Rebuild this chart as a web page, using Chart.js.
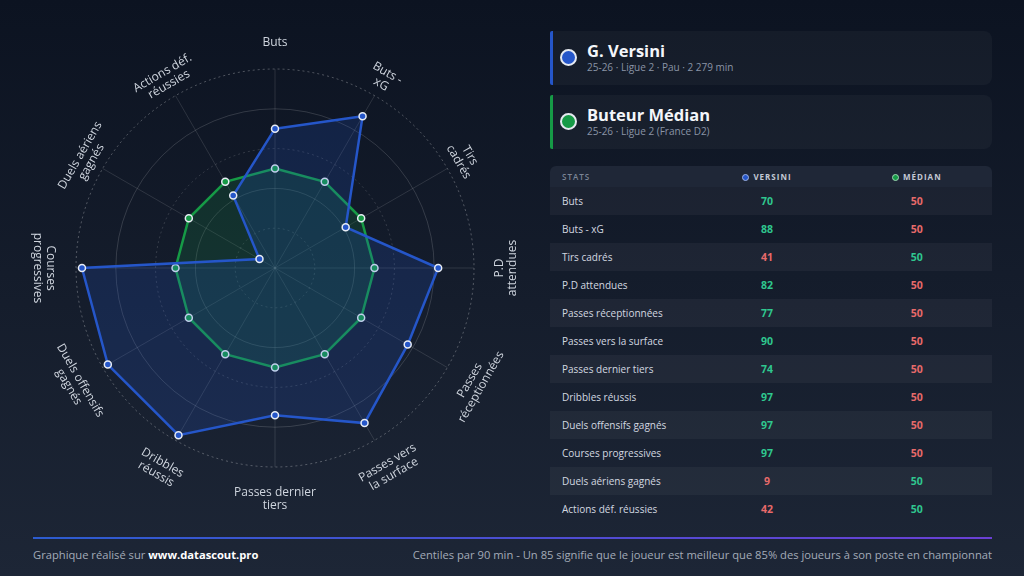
<!DOCTYPE html>
<html>
<head>
<meta charset="utf-8">
<script src="https://cdn.jsdelivr.net/npm/chart.js@4.4.0/dist/chart.umd.min.js"></script>
<style>
  html, body { margin: 0; padding: 0; }
  body {
    width: 1024px; height: 576px; overflow: hidden; position: relative;
    background: linear-gradient(180deg, #0c1321 0%, #1d2636 100%);
    font-family: "Open Sans", sans-serif; color: #e5e9f0;
  }
  #radar { position: absolute; left: 0; top: 0; }
  .card {
    position: absolute; left: 550px; width: 442px; height: 54px; box-sizing: border-box;
    background: rgba(255,255,255,0.035); border-left: 3px solid; border-radius: 2px 8px 8px 2px;
  }
  .card .dot {
    position: absolute; left: 7px; top: 18px; width: 13px; height: 13px;
    border-radius: 50%; border: 2px solid #e5e9f0;
  }
  .card .name { position: absolute; left: 34px; top: 9px; font-size: 16.5px; font-weight: 700; line-height: 22px; color: #f4f6fa; }
  .card .sub { position: absolute; left: 34px; top: 29px; font-size: 10px; line-height: 14px; color: #8a94a6; }
  #stats { position: absolute; left: 550px; top: 166px; width: 442px; border-collapse: collapse; }
  #stats th {
    height: 21px; padding: 0; background: #1f2737; font-size: 8px; font-weight: 700;
    letter-spacing: 1px; color: #c3c9d4;
  }
  #stats th:first-child { text-align: left; padding-left: 12px; color: #7b8596; font-weight: 600; border-radius: 6px 0 0 0; }
  #stats th:last-child { border-radius: 0 6px 0 0; }
  #stats th .hd { display: inline-block; width: 7px; height: 7px; border-radius: 50%; margin-right: 4px; vertical-align: -1px; }
  #stats td { height: 28px; padding: 0; font-size: 10.5px; text-align: center; font-weight: 700; }
  #stats td:first-child { text-align: left; padding-left: 12px; font-weight: 400; font-size: 10px; color: #d3d8e0; }
  #stats tr.odd td { background: rgba(255,255,255,0.045); }
  .hi { color: #2fc78f; }
  .lo { color: #e86a6a; }
  #rule { position: absolute; left: 33px; top: 537px; width: 959px; height: 2px; background: linear-gradient(90deg, #2c5ccf, #6a40d4); }
  #foot-l { position: absolute; left: 33px; top: 547px; font-size: 11.2px; line-height: 16px; color: #a3abb8; }
  #foot-l b { color: #ffffff; }
  #foot-r { position: absolute; right: 32px; top: 547px; font-size: 11.2px; line-height: 16px; color: #a3abb8; }
</style>
</head>
<body>
<canvas id="radar" width="550" height="536"></canvas>

<div class="card" style="top:31px;border-left-color:#2556c9">
  <div class="dot" style="background:#2556c9"></div>
  <div class="name">G. Versini</div>
  <div class="sub">25-26 · Ligue 2 · Pau · 2 279 min</div>
</div>
<div class="card" style="top:95px;border-left-color:#169a46">
  <div class="dot" style="background:#169a46"></div>
  <div class="name">Buteur Médian</div>
  <div class="sub">25-26 · Ligue 2 (France D2)</div>
</div>

<table id="stats">
  <thead>
    <tr>
      <th style="width:133px">STATS</th>
      <th style="width:154px"><span class="hd" style="background:#2556c9;border:1px solid #9fb3e6;box-sizing:border-box"></span>VERSINI</th>
      <th style="width:155px"><span class="hd" style="background:#169a46;border:1px solid #9fd8b4;box-sizing:border-box"></span>MÉDIAN</th>
    </tr>
  </thead>
  <tbody id="rows"></tbody>
</table>

<div id="rule"></div>
<div id="foot-l">Graphique réalisé sur <b>www.datascout.pro</b></div>
<div id="foot-r">Centiles par 90 min - Un 85 signifie que le joueur est meilleur que 85% des joueurs à son poste en championnat</div>

<script>
// stats, clockwise from the top
const categories = ['Buts', 'Buts - xG', 'Tirs cadrés', 'P.D attendues', 'Passes réceptionnées',
  'Passes vers la surface', 'Passes dernier tiers', 'Dribbles réussis', 'Duels offensifs gagnés',
  'Courses progressives', 'Duels aériens gagnés', 'Actions déf. réussies'];
// how each name is wrapped around the radar
const categoryLines = [['Buts'], ['Buts -', 'xG'], ['Tirs', 'cadrés'], ['P.D', 'attendues'],
  ['Passes', 'réceptionnées'], ['Passes vers', 'la surface'], ['Passes dernier', 'tiers'],
  ['Dribbles', 'réussis'], ['Duels offensifs', 'gagnés'], ['Courses', 'progressives'],
  ['Duels aériens', 'gagnés'], ['Actions déf.', 'réussies']];
const versini = [70, 88, 41, 82, 77, 90, 74, 97, 97, 97, 9, 42];
const median = [50, 50, 50, 50, 50, 50, 50, 50, 50, 50, 50, 50];

// table
const tbody = document.getElementById('rows');
for (let i = 0; i < categories.length; i++) {
  const tr = document.createElement('tr');
  if (i % 2 === 0) tr.className = 'odd';
  const a = versini[i], b = median[i];
  tr.innerHTML = '<td>' + categories[i] + '</td>' +
    '<td class="' + (a >= b ? 'hi' : 'lo') + '">' + a + '</td>' +
    '<td class="' + (b > a ? 'hi' : 'lo') + '">' + b + '</td>';
  tbody.appendChild(tr);
}

// rotated labels around the radar
const rotatedLabels = {
  id: 'rotatedLabels',
  afterDraw(chart) {
    const scale = chart.scales.r;
    const ctx = chart.ctx;
    const n = categoryLines.length;
    const lh = 13;
    ctx.save();
    ctx.font = '12px "Open Sans"';
    ctx.fillStyle = '#cfd5de';
    ctx.textAlign = 'center';
    ctx.textBaseline = 'middle';
    for (let i = 0; i < n; i++) {
      const deg = i * 360 / n;
      // bottom half is turned round so it stays readable
      const rot = (deg >= 90 && deg <= 270) ? deg - 180 : deg;
      const p = scale.getPointPosition(i, scale.drawingArea + 26);
      ctx.save();
      ctx.translate(p.x, p.y);
      ctx.rotate(rot * Math.PI / 180);
      categoryLines[i].forEach((t, k) => {
        ctx.fillText(t, 0, k * lh);
      });
      ctx.restore();
    }
    ctx.restore();
  }
};

new Chart(document.getElementById('radar'), {
  type: 'radar',
  data: {
    labels: categories,
    datasets: [{
      label: 'Versini',
      data: versini,
      borderColor: '#2556c9',
      backgroundColor: 'rgba(37,86,201,0.2)',
      borderWidth: 2.5,
      fill: true,
      pointRadius: 3.5,
      pointBorderWidth: 1.5,
      pointBorderColor: '#e8edf5',
      pointBackgroundColor: '#2556c9'
    }, {
      label: 'Médian',
      data: median,
      borderColor: '#169a46',
      backgroundColor: 'rgba(22,154,70,0.18)',
      borderWidth: 2.5,
      fill: true,
      pointRadius: 3.5,
      pointBorderWidth: 1.5,
      pointBorderColor: '#e8edf5',
      pointBackgroundColor: '#169a46'
    }]
  },
  options: {
    responsive: false,
    animation: false,
    layout: { padding: { left: 76, right: 76, top: 69, bottom: 69 } },
    plugins: { legend: { display: false }, tooltip: { enabled: false } },
    elements: { line: { tension: 0 } },
    scales: {
      r: {
        min: 0,
        max: 100,
        ticks: { display: false, stepSize: 20 },
        pointLabels: { display: false },
        angleLines: { color: 'rgba(255,255,255,0.12)', lineWidth: 1 },
        grid: {
          circular: true,
          lineWidth: 1,
          color: (c) => c.index === 5 ? 'rgba(255,255,255,0.28)' : 'rgba(255,255,255,0.15)'
        },
        border: { dash: (c) => c.index % 2 === 1 ? [2, 3] : [] }
      }
    }
  },
  plugins: [rotatedLabels]
});
</script>
</body>
</html>
